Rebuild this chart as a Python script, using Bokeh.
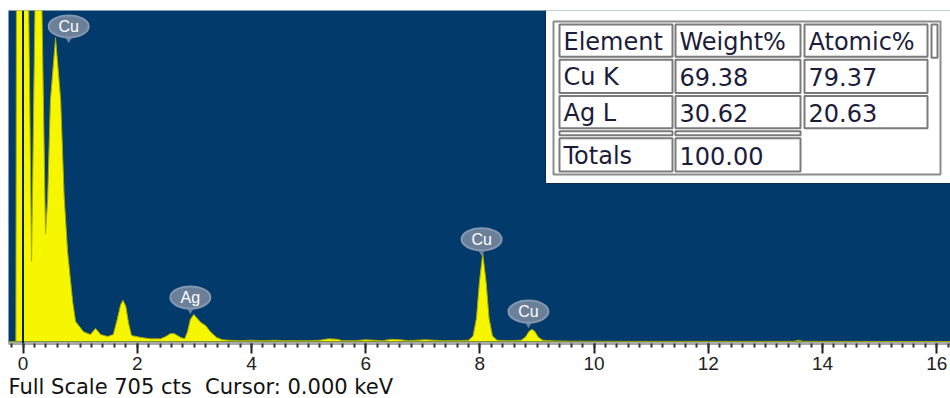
from bokeh.plotting import figure
from bokeh.models import Range1d, SingleIntervalTicker, Title, Span
from bokeh.embed import file_html
from bokeh.resources import INLINE
from bokeh.core.properties import value

# ---------------- data ----------------
energy_kev = [-0.254, -0.125, -0.115, 0.095, 0.150, 0.215, 0.325, 0.394,
              0.43, 0.48, 0.57, 0.66, 0.72, 0.78, 0.87, 0.92, 1.06, 1.18, 1.27, 1.36,
              1.48, 1.58, 1.65, 1.71, 1.75, 1.80, 1.85, 1.90, 2.06, 2.23, 2.41, 2.50,
              2.58, 2.65, 2.76, 2.83, 2.88, 2.93, 2.99, 3.04, 3.11, 3.20, 3.28, 3.39,
              3.49, 3.60, 3.80, 4.00, 4.20, 4.40, 4.60, 4.80, 5.00, 5.20, 5.35, 5.50,
              5.60, 5.80, 6.00, 6.15, 6.30, 6.45, 6.60, 6.75, 6.90, 7.05, 7.20, 7.40,
              7.60, 7.80, 7.88, 7.94, 7.99, 8.05, 8.11, 8.16, 8.22, 8.30, 8.50, 8.72,
              8.80, 8.86, 8.91, 8.96, 9.02, 9.10, 9.30, 9.60, 10.50, 12.00, 13.50, 13.58,
              13.66, 16.24]
counts = [0, 0, 760, 760, 171, 760, 760, 229,
          300, 513, 647, 513, 310, 192, 85, 43, 21, 15, 28, 15,
          11, 15, 47, 79, 88, 75, 38, 13, 9, 6, 6, 11,
          17, 17, 9, 6, 21, 47, 58, 51, 41, 34, 21, 9,
          4, 3, 2, 3, 2, 3, 2, 2, 2, 3, 6, 5,
          2, 2, 4, 3, 2, 5, 4, 2, 3, 4, 3, 2,
          2, 3, 12, 50, 125, 188, 125, 50, 12, 3, 2, 3,
          10, 22, 26, 22, 10, 3, 1.5, 1, 0.5, 0.5, 0.5, 3,
          0.5, 0.3]

peak_labels = ["Cu", "Ag", "Cu", "Cu"]
label_kev = [0.80, 2.93, 8.03, 8.85]
label_cts = [671, 94, 218, 64]

table_header = ["Element", "Weight%", "Atomic%"]
elements = ["Cu K", "Ag L"]
weight_pct = ["69.38", "30.62"]
atomic_pct = ["79.37", "20.63"]
totals_label = "Totals"
weight_total = "100.00"

full_scale_cts = 705
cursor_kev = 0.0

# ---------------- figure ----------------
W, H = 950, 398
FRAME_LEFT, FRAME_TOP = 8, 10
FRAME_W, FRAME_H = 942, 331
X0, X1 = -0.254, 16.24
Y0, Y1 = -4, full_scale_cts

p = figure(width=W, height=H, x_range=Range1d(X0, X1), y_range=Range1d(Y0, Y1),
           output_backend="svg", toolbar_location=None, y_axis_location=None,
           min_border_top=FRAME_TOP, min_border_left=FRAME_LEFT, min_border_right=0,
           min_border_bottom=0,
           background_fill_color="#023a6b", border_fill_color="white",
           outline_line_color=None)
p.grid.visible = False

ax = p.xaxis[0]
ax.ticker = SingleIntervalTicker(interval=2, num_minor_ticks=10)
ax.axis_line_color = "#a8a8a8"
ax.axis_line_width = 3
ax.major_tick_line_color = "#222222"
ax.major_tick_line_width = 2
ax.major_tick_in = 0
ax.major_tick_out = 10
ax.minor_tick_line_color = "#333333"
ax.minor_tick_line_width = 2
ax.minor_tick_in = 0
ax.minor_tick_out = 4
ax.major_label_text_font = "Liberation Sans"
ax.major_label_text_font_size = "19px"
ax.major_label_text_color = "#222222"
ax.major_label_standoff = 3

# spectrum
p.varea(x=energy_kev, y1=0, y2=counts, fill_color="#f6f600")
p.line(x=energy_kev, y=counts, line_color="#a8a800", line_width=1)

# cursor
p.add_layout(Span(location=cursor_kev, dimension="height", line_color="#10202a", line_width=2))

# peak bubbles with a small pointer below each
cts_per_px = (Y1 - Y0) / FRAME_H
stem_y = [c - 12 * cts_per_px for c in label_cts]
p.scatter(x=label_kev, y=stem_y, marker="inverted_triangle", size=8,
          fill_color="#6b7f99", line_color=None)
p.ellipse(x=label_kev, y=label_cts, width=40, height=22, width_units="screen",
          height_units="screen", fill_color="#6b7f99", line_color="#8497b0", line_width=2)
p.text(x=label_kev, y=label_cts, text=peak_labels, text_align="center", text_baseline="middle",
       text_color="white", text_font=value("Liberation Sans"), text_font_size="16px")


# ---------------- table (layout in page px, mapped to data) ----------------
def px2x(px):
    return X0 + (px - FRAME_LEFT) * (X1 - X0) / FRAME_W


def py2y(py):
    return Y1 - (py - FRAME_TOP) * (Y1 - Y0) / FRAME_H


p.quad(left=[px2x(545)], right=[px2x(990)], top=[py2y(0)], bottom=[py2y(182)],
       fill_color="white", line_color="#0a2a4a", line_width=1)
p.quad(left=[px2x(553)], right=[px2x(940)], top=[py2y(21)], bottom=[py2y(173)],
       fill_color=None, line_color="#8c8c8c", line_width=2)

cols = [(559, 672), (675, 800), (804, 927)]
rows = [(24, 56), (59, 92), (95, 127)]
cl, cr, ct, cb = [], [], [], []
for (t, b) in rows:
    for (l, r) in cols:
        cl.append(px2x(l)); cr.append(px2x(r)); ct.append(py2y(t)); cb.append(py2y(b))
for (l, r) in cols[:2]:
    cl.append(px2x(l)); cr.append(px2x(r)); ct.append(py2y(130)); cb.append(py2y(134))
    cl.append(px2x(l)); cr.append(px2x(r)); ct.append(py2y(137)); cb.append(py2y(170))
cl.append(px2x(931)); cr.append(px2x(937)); ct.append(py2y(24)); cb.append(py2y(57))
p.quad(left=cl, right=cr, top=ct, bottom=cb, fill_color=None, line_color="#7a7a7a", line_width=2)

cells = [table_header] + [[e, w, a] for e, w, a in zip(elements, weight_pct, atomic_pct)]
tx, ty, tt = [], [], []
for (t, b), row in zip(rows, cells):
    for (l, r), s in zip(cols, row):
        tx.append(px2x(l + 4)); ty.append(py2y((t + b) / 2 + 1)); tt.append(s)
for (l, r), s in zip(cols[:2], [totals_label, weight_total]):
    tx.append(px2x(l + 4)); ty.append(py2y(154.5)); tt.append(s)
p.text(x=tx, y=ty, text=tt, text_align="left", text_baseline="middle", text_color="#1c1c3a",
       text_font=value("DejaVu Sans"), text_font_size="24px")

# bottom status line
status = f"Full Scale {full_scale_cts} cts\u00a0\u00a0Cursor: {cursor_kev:.3f} keV"
p.add_layout(Title(text=status, align="left", text_font="DejaVu Sans", text_font_size="21px",
                   text_font_style="normal", text_color="#111111", standoff=0), "below")

open("out.html", "w").write(file_html(p, INLINE))
